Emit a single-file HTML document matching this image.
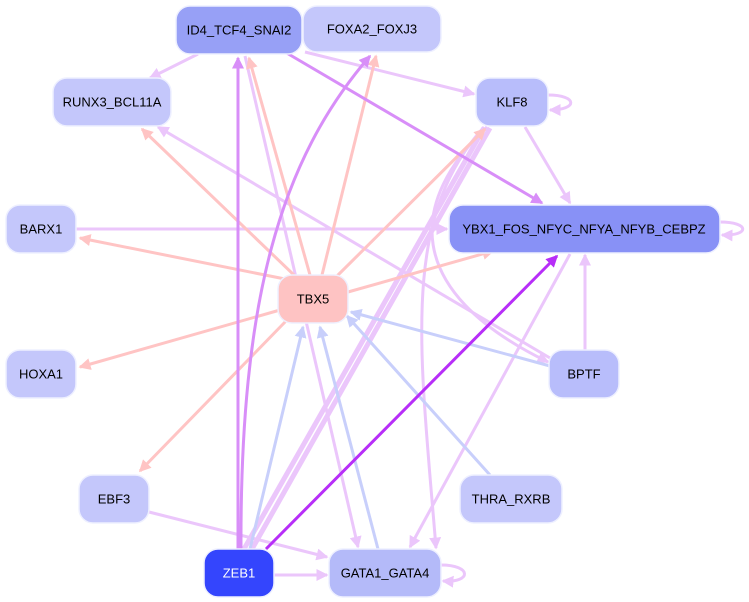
<!DOCTYPE html>
<html><head><meta charset="utf-8"><style>
body{margin:0;background:#fff;width:749px;height:602px;overflow:hidden}
svg{display:block}
text{font-family:"Liberation Sans",sans-serif;font-size:13px;text-anchor:middle;dominant-baseline:central}
</style></head><body>
<svg width="749" height="602" viewBox="0 0 749 602">
<defs>
<marker id="lv" markerWidth="4" markerHeight="4" refX="3.5" refY="2" orient="auto" markerUnits="strokeWidth"><path d="M0,0L4,2L0,4z" fill="#ebc6fb"/></marker>
<marker id="pk" markerWidth="4" markerHeight="4" refX="3.5" refY="2" orient="auto" markerUnits="strokeWidth"><path d="M0,0L4,2L0,4z" fill="#ffc4c4"/></marker>
<marker id="lb" markerWidth="4" markerHeight="4" refX="3.5" refY="2" orient="auto" markerUnits="strokeWidth"><path d="M0,0L4,2L0,4z" fill="#c8cffb"/></marker>
<marker id="vi" markerWidth="4" markerHeight="4" refX="3.5" refY="2" orient="auto" markerUnits="strokeWidth"><path d="M0,0L4,2L0,4z" fill="#d88ef8"/></marker>
<marker id="sp" markerWidth="4" markerHeight="4" refX="3.5" refY="2" orient="auto" markerUnits="strokeWidth"><path d="M0,0L4,2L0,4z" fill="#b72ef8"/></marker>
</defs>
<g fill="none" stroke-width="3">
<!-- light violet -->
<g stroke="#ebc6fb" marker-end="url(#lv)">
<line x1="198" y1="54" x2="150" y2="78"/>
<line x1="305" y1="52" x2="474" y2="94"/>
<line x1="525" y1="127" x2="570" y2="203"/>
<line x1="76" y1="229" x2="447" y2="229"/>
<line x1="585" y1="350" x2="585" y2="255"/>
<line x1="550" y1="358" x2="158" y2="127"/>
<path d="M487,127 C410,200 400,290 548,362"/>
<path d="M484,127 C400,220 420,350 436,548"/>
<line x1="570" y1="254" x2="410" y2="547"/>
<line x1="245" y1="56" x2="358" y2="547"/>
<line x1="149" y1="512" x2="327" y2="557"/>
<line x1="274" y1="575" x2="327" y2="575"/>
<path d="M441,565 C472,565 472,583 443,581"/>
<path d="M548,95 C578,95 578,110 550,110"/>
<path d="M720,222 C750,222 750,236 722,235"/>
</g>
<g stroke="#ebc6fb" stroke-width="5">
<line x1="244" y1="549" x2="484" y2="128"/>
<line x1="252" y1="549" x2="490" y2="128"/>
</g>
<path d="M302,22 C325,18 325,38 304,36" stroke="#ebc6fb" marker-end="url(#lv)"/>
<!-- pink -->
<g stroke="#ffc4c4" marker-end="url(#pk)">
<line x1="290" y1="280" x2="80" y2="238"/>
<line x1="295" y1="276" x2="142" y2="129"/>
<line x1="310" y1="275" x2="249" y2="58"/>
<line x1="322" y1="275" x2="376" y2="56"/>
<line x1="336" y1="277" x2="485" y2="129"/>
<line x1="348" y1="292" x2="493" y2="251"/>
<line x1="280" y1="310" x2="80" y2="367"/>
<line x1="286" y1="321" x2="140" y2="471"/>
</g>
<!-- light blue -->
<g stroke="#c8cffb" marker-end="url(#lb)">
<line x1="550" y1="366" x2="351" y2="312"/>
<line x1="490" y1="475" x2="347" y2="316"/>
<line x1="378" y1="549" x2="320" y2="327"/>
<line x1="250" y1="549" x2="303" y2="327"/>
</g>
<!-- violet -->
<g stroke="#d88ef8" marker-end="url(#vi)">
<line x1="238" y1="549" x2="238" y2="58"/>
<path d="M241,549 C240,300 280,160 370,56"/>
<line x1="285" y1="52" x2="542" y2="203"/>
</g>
<line x1="266" y1="549" x2="557" y2="256" stroke="#b72ef8" marker-end="url(#sp)"/>
</g>
<g stroke="#eef0ff" stroke-width="1.5">
<rect x="176" y="6" width="126" height="48" rx="14" fill="#97a0f6"/>
<rect x="303" y="6" width="138" height="46" rx="14" fill="#c4c7fb"/>
<rect x="53" y="78" width="118" height="48" rx="14" fill="#c4c7fb"/>
<rect x="476" y="78" width="72" height="48" rx="14" fill="#b8bdfb"/>
<rect x="6" y="205" width="70" height="48" rx="14" fill="#c4c7fb"/>
<rect x="449" y="205" width="271" height="48" rx="14" fill="#8891f6"/>
<rect x="278" y="275" width="70" height="48" rx="14" fill="#fec3c3"/>
<rect x="6" y="350" width="70" height="48" rx="14" fill="#c4c7fb"/>
<rect x="549" y="350" width="70" height="48" rx="14" fill="#b8bdfb"/>
<rect x="79" y="475" width="70" height="48" rx="14" fill="#c4c7fb"/>
<rect x="460" y="475" width="102" height="48" rx="14" fill="#c4c7fb"/>
<rect x="204" y="549" width="70" height="48" rx="14" fill="#3445fd"/>
<rect x="329" y="549" width="112" height="48" rx="14" fill="#b4baf9"/>
</g>
<text x="239" y="30">ID4_TCF4_SNAI2</text>
<text x="372" y="29">FOXA2_FOXJ3</text>
<text x="112" y="102">RUNX3_BCL11A</text>
<text x="512" y="102">KLF8</text>
<text x="41" y="229">BARX1</text>
<text x="584" y="229">YBX1_FOS_NFYC_NFYA_NFYB_CEBPZ</text>
<text x="313" y="299">TBX5</text>
<text x="41" y="374">HOXA1</text>
<text x="584" y="374">BPTF</text>
<text x="114" y="499">EBF3</text>
<text x="511" y="499">THRA_RXRB</text>
<text x="239" y="573" fill="#fff">ZEB1</text>
<text x="385" y="573">GATA1_GATA4</text>
</svg>
</body></html>
